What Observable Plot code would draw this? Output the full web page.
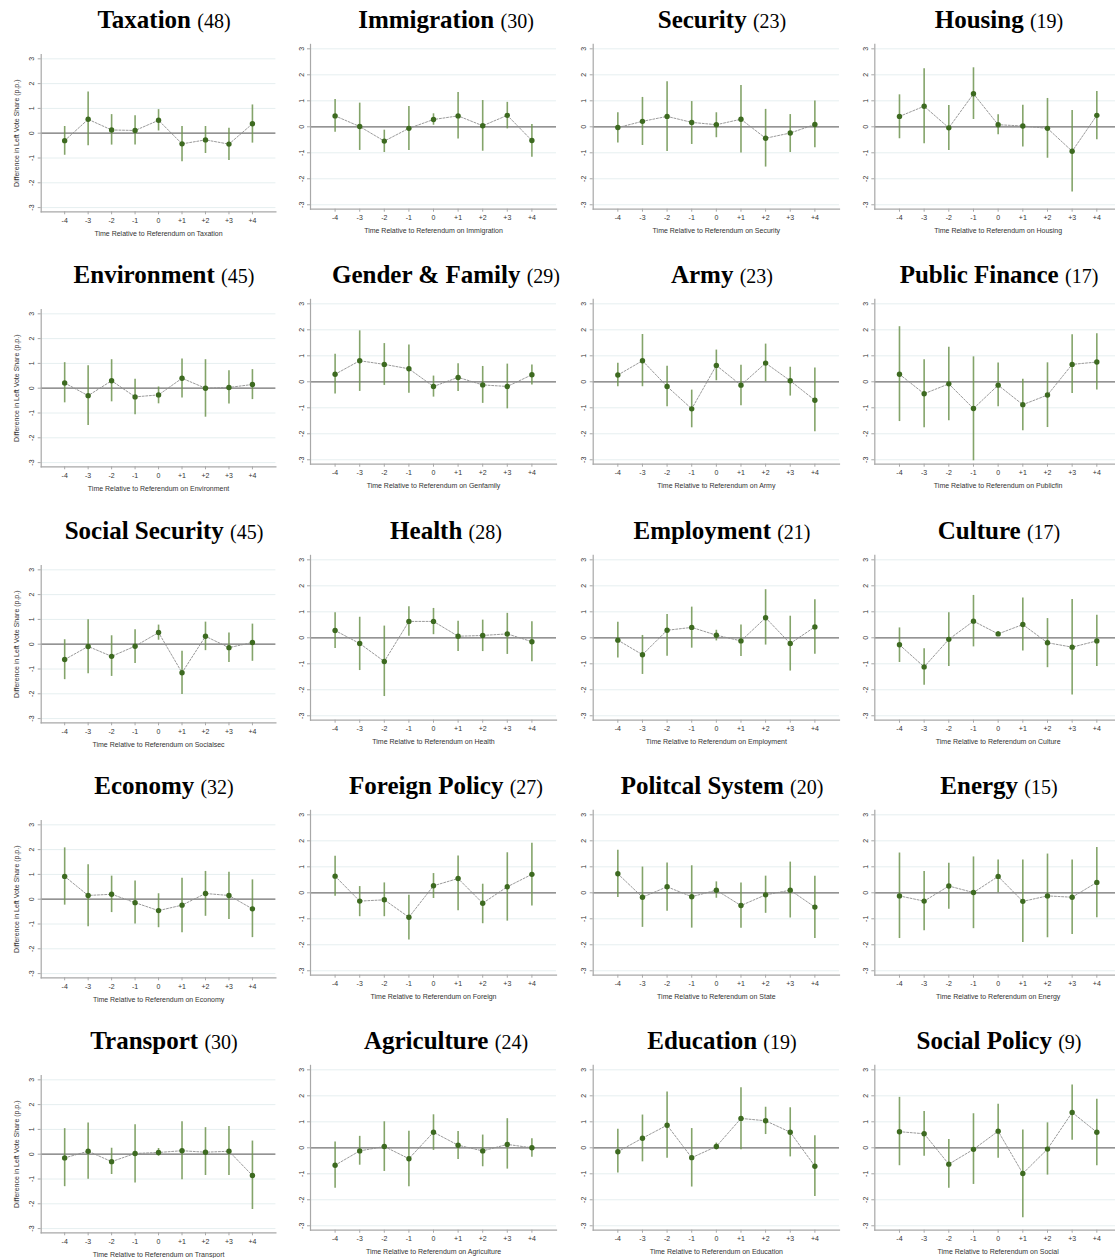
<!DOCTYPE html>
<html>
<head>
<meta charset="utf-8">
<script src="https://cdn.jsdelivr.net/npm/d3@7"></script>
<script src="https://cdn.jsdelivr.net/npm/@observablehq/plot@0.6"></script>
<style>
  html, body { margin: 0; padding: 0; background: #fff; }
  #page { position: relative; width: 1115px; height: 1258px; overflow: hidden; background: #fff; }
  .title { position: absolute; width: 320px; text-align: center; white-space: nowrap;
           font-family: "Liberation Serif", "DejaVu Serif", serif; font-size: 25px; line-height: 25px; color: #000; }
  .title b { font-weight: bold; }
  .title span { font-size: 20px; }
  .panel { position: absolute; }
  .panel svg { max-width: none !important; display: block; }
</style>
</head>
<body>
<div id="page"></div>
<script>
// ---- data ----
const topics = ["Taxation","Immigration","Security","Housing",
                "Environment","Gender & Family","Army","Public Finance",
                "Social Security","Health","Employment","Culture",
                "Economy","Foreign Policy","Politcal System","Energy",
                "Transport","Agriculture","Education","Social Policy"];
const counts = [48,30,23,19, 45,29,23,17, 45,28,21,17, 32,27,20,15, 30,24,19,9];
const axisNames = ["Taxation","Immigration","Security","Housing",
                   "Environment","Genfamily","Army","Publicfin",
                   "Socialsec","Health","Employment","Culture",
                   "Economy","Foreign","State","Energy",
                   "Transport","Agriculture","Education","Social"];
const periods = [-4,-3,-2,-1,0,1,2,3,4];
const periodLabels = ["-4","-3","-2","-1","0","+1","+2","+3","+4"];
const yTicks = [-3,-2,-1,0,1,2,3];
const yTickLabels = ["-3","-2","-1","0","1","2","3"];
const yTitle = "Difference in Left Vote Share (p.p.)";

const est = [
  [-0.30, 0.56, 0.13, 0.11, 0.52,-0.43,-0.27,-0.44, 0.38],
  [ 0.42, 0.01,-0.55,-0.06, 0.28, 0.42, 0.04, 0.44,-0.53],
  [-0.03, 0.21, 0.40, 0.17, 0.08, 0.29,-0.44,-0.24, 0.09],
  [ 0.40, 0.79,-0.04, 1.27, 0.08, 0.03,-0.06,-0.94, 0.44],
  [ 0.21,-0.30, 0.30,-0.35,-0.27, 0.40, 0.00, 0.03, 0.15],
  [ 0.29, 0.81, 0.67, 0.50,-0.18, 0.17,-0.12,-0.18, 0.27],
  [ 0.26, 0.81,-0.18,-1.04, 0.63,-0.13, 0.72, 0.04,-0.71],
  [ 0.29,-0.46,-0.08,-1.03,-0.13,-0.88,-0.51, 0.67, 0.76],
  [-0.62,-0.09,-0.49,-0.08, 0.47,-1.15, 0.32,-0.14, 0.07],
  [ 0.28,-0.22,-0.91, 0.63, 0.63, 0.06, 0.09, 0.15,-0.15],
  [-0.09,-0.65, 0.29, 0.40, 0.10,-0.12, 0.77,-0.22, 0.42],
  [-0.27,-1.12,-0.06, 0.64, 0.15, 0.51,-0.19,-0.36,-0.12],
  [ 0.92, 0.15, 0.20,-0.14,-0.46,-0.24, 0.23, 0.15,-0.39],
  [ 0.64,-0.32,-0.27,-0.94, 0.27, 0.55,-0.40, 0.23, 0.71],
  [ 0.73,-0.17, 0.23,-0.15, 0.10,-0.49,-0.08, 0.10,-0.55],
  [-0.12,-0.32, 0.26, 0.01, 0.63,-0.33,-0.12,-0.17, 0.40],
  [-0.15, 0.12,-0.30, 0.03, 0.07, 0.14, 0.08, 0.12,-0.86],
  [-0.67,-0.12, 0.05,-0.42, 0.60, 0.10,-0.12, 0.13, 0.00],
  [-0.15, 0.37, 0.87,-0.38, 0.05, 1.13, 1.04, 0.60,-0.71],
  [ 0.62, 0.54,-0.63,-0.06, 0.64,-0.99,-0.05, 1.36, 0.60]
];
const hi = [
  [ 0.27, 1.66, 0.75, 0.70, 0.95, 0.27, 0.27, 0.20, 1.14],
  [ 1.05, 0.91,-0.13, 0.78, 0.50, 1.32, 1.01, 0.94, 0.09],
  [ 0.54, 1.13, 1.73, 0.97, 0.54, 1.59, 0.67, 0.47, 0.99],
  [ 1.23, 2.23, 0.82, 2.27, 0.46, 0.83, 1.09, 0.63, 1.36],
  [ 1.03, 0.91, 1.15, 0.36, 0.05, 1.18, 1.15, 0.70, 0.75],
  [ 1.06, 1.96, 1.47, 1.42, 0.22, 0.69, 0.59, 0.68, 0.65],
  [ 0.71, 1.82, 0.60,-0.32, 1.22, 0.64, 1.45, 0.56, 0.53],
  [ 2.12, 0.85, 1.33, 0.96, 0.72, 0.10, 0.73, 1.81, 1.85],
  [ 0.18, 0.99, 0.34, 0.58, 0.77,-0.28, 0.89, 0.45, 0.81],
  [ 0.96, 0.79, 0.45, 1.19, 1.13, 0.64, 0.68, 0.94, 0.62],
  [ 0.60, 0.09, 0.90, 1.18, 0.29, 0.49, 1.85, 0.83, 1.46],
  [ 0.38,-0.42, 0.96, 1.63, 0.24, 1.53, 0.74, 1.47, 0.87],
  [ 2.07, 1.39, 0.93, 0.73, 0.22, 0.84, 1.12, 1.09, 0.78],
  [ 1.41, 0.24, 0.38,-0.09, 0.74, 1.42, 0.33, 1.54, 1.91],
  [ 1.64, 0.99, 1.15, 1.04, 0.42, 0.38, 0.64, 1.18, 0.64],
  [ 1.53, 0.82, 1.14, 1.38, 1.26, 1.26, 1.49, 1.26, 1.74],
  [ 1.03, 1.26, 0.24, 1.19, 0.23, 1.31, 1.07, 1.12, 0.53],
  [ 0.22, 0.44, 1.00, 0.64, 1.27, 0.63, 0.49, 1.12, 0.35],
  [ 0.71, 1.26, 2.15, 0.74, 0.18, 2.31, 1.56, 1.54, 0.46],
  [ 1.94, 1.40, 0.32, 1.31, 1.68, 0.68, 0.96, 2.42, 1.87]
];
const lo = [
  [-0.89,-0.51,-0.48,-0.48, 0.09,-1.15,-0.82,-1.10,-0.40],
  [-0.21,-0.91,-0.99,-0.91, 0.06,-0.47,-0.94,-0.08,-1.17],
  [-0.62,-0.72,-0.95,-0.68,-0.42,-1.01,-1.55,-0.99,-0.81],
  [-0.46,-0.65,-0.91, 0.28,-0.31,-0.78,-1.21,-2.51,-0.50],
  [-0.59,-1.50,-0.55,-1.07,-0.63,-0.40,-1.17,-0.64,-0.46],
  [-0.47,-0.37,-0.14,-0.44,-0.59,-0.37,-0.83,-1.04,-0.12],
  [-0.19,-0.19,-0.96,-1.77, 0.04,-0.92, 0.00,-0.55,-1.92],
  [-1.53,-1.77,-1.50,-3.04,-0.96,-1.88,-1.76,-0.45,-0.32],
  [-1.43,-1.19,-1.30,-0.78, 0.16,-2.03,-0.26,-0.74,-0.69],
  [-0.41,-1.26,-2.26, 0.06, 0.12,-0.53,-0.53,-0.64,-0.92],
  [-0.78,-1.41,-0.71,-0.40,-0.12,-0.72,-0.28,-1.28,-0.63],
  [-0.95,-1.83,-1.10,-0.35, 0.06,-0.51,-1.15,-2.20,-1.10],
  [-0.24,-1.11,-0.54,-1.00,-1.15,-1.35,-0.69,-0.82,-1.55],
  [-0.13,-0.92,-0.92,-1.82,-0.22,-0.69,-1.19,-1.09,-0.51],
  [-0.18,-1.33,-0.71,-1.36,-0.21,-1.36,-0.79,-0.97,-1.76],
  [-1.76,-1.46,-0.63,-1.38, 0.00,-1.91,-1.73,-1.60,-0.96],
  [-1.31,-1.01,-0.82,-1.16,-0.08,-1.03,-0.86,-0.86,-2.23],
  [-1.56,-0.67,-0.91,-1.50,-0.10,-0.45,-0.73,-0.82,-0.36],
  [-0.97,-0.54,-0.40,-1.51,-0.08,-0.08, 0.51,-0.35,-1.87],
  [-0.69,-0.33,-1.56,-1.41,-0.40,-2.69,-1.05, 0.29,-0.69]
];

// ---- layout ----
const ROW_PITCH = 255.25;
const titleCenters = [164, 446, 722, 999];
const colGeom = [
  {left: 0,   width: 290, ml: 40.7, mr: 14.6, top: 40, mt: 14.1, ph: 157.2},
  {left: 290, width: 280, ml: 20,   mr: 14,   top: 35, mt: 8.9,  ph: 164.8},
  {left: 570, width: 275, ml: 22.7, mr: 6,    top: 35, mt: 8.9,  ph: 164.8},
  {left: 845, width: 280, ml: 29.3, mr: 4,    top: 35, mt: 8.9,  ph: 164.8}
];
const MB = 40;

const page = document.getElementById("page");
const fmtX = d => periodLabels[periods.indexOf(d)];
const fmtY = d => yTickLabels[yTicks.indexOf(d)];

topics.forEach((topic, i) => {
  const col = i % 4, row = Math.floor(i / 4);
  const g = colGeom[col];
  const data = periods.map((p, j) => ({p, e: est[i][j], l: lo[i][j], h: hi[i][j]}));

  const t = document.createElement("div");
  t.className = "title";
  t.style.left = (titleCenters[col] - 160) + "px";
  t.style.top = (7 + ROW_PITCH * row) + "px";
  t.innerHTML = `<b></b> <span></span>`;
  t.querySelector("b").textContent = topic;
  t.querySelector("span").textContent = `(${counts[i]})`;

  const marks = [
    Plot.ruleY(yTicks.filter(d => d !== 0), {stroke: "#e6eff0", strokeWidth: 1}),
    Plot.ruleY([0], {stroke: "#707070", strokeWidth: 1.2}),
    Plot.frame({anchor: "left", stroke: "#a8a8a8", strokeWidth: 1.2}),
    Plot.frame({anchor: "bottom", stroke: "#a8a8a8", strokeWidth: 1.2}),
    Plot.axisX(periods, {tickFormat: fmtX, tickSize: 3, tickPadding: 3, fontSize: 7, stroke: "#a8a8a8", color: "#333", label: null}),
    Plot.axisY(yTicks, {tickFormat: fmtY, tickSize: 3, tickPadding: 4, tickRotate: -90, fontSize: 7, stroke: "#a8a8a8", color: "#333", label: null}),
    Plot.text(["Time Relative to Referendum on " + axisNames[i]], {text: d => d, frameAnchor: "bottom", dy: 24, fontSize: 7, fill: "#333"}),
    Plot.ruleX(data, {x: "p", y1: "l", y2: "h", stroke: "#6f9450", strokeWidth: 1.6, strokeOpacity: 0.85}),
    Plot.line(data, {x: "p", y: "e", stroke: "#8f8f8f", strokeWidth: 0.9, strokeDasharray: "2,1.6"}),
    Plot.dot(data, {x: "p", y: "e", r: 2.7, fill: "#3d6a20", stroke: "none"})
  ];
  if (col === 0) {
    marks.push(Plot.text([yTitle], {text: d => d, frameAnchor: "left", dx: -24.5, rotate: -90, textAnchor: "middle", fontSize: 7, fill: "#333"}));
  }

  const svg = Plot.plot({
    width: g.width,
    height: g.mt + g.ph + MB,
    marginLeft: g.ml, marginRight: g.mr, marginTop: g.mt, marginBottom: MB,
    x: {domain: [-5, 5], axis: null},
    y: {domain: [-3.17, 3.17], axis: null},
    style: {background: "transparent", fontFamily: "'Liberation Sans', Arial, sans-serif", overflow: "visible", maxWidth: "none"},
    marks
  });
  const wrap = document.createElement("div");
  wrap.className = "panel";
  wrap.style.left = g.left + "px";
  wrap.style.top = (g.top + ROW_PITCH * row) + "px";
  wrap.style.width = g.width + "px";
  wrap.appendChild(svg);
  page.appendChild(wrap);
  page.appendChild(t);
});
</script>
</body>
</html>
